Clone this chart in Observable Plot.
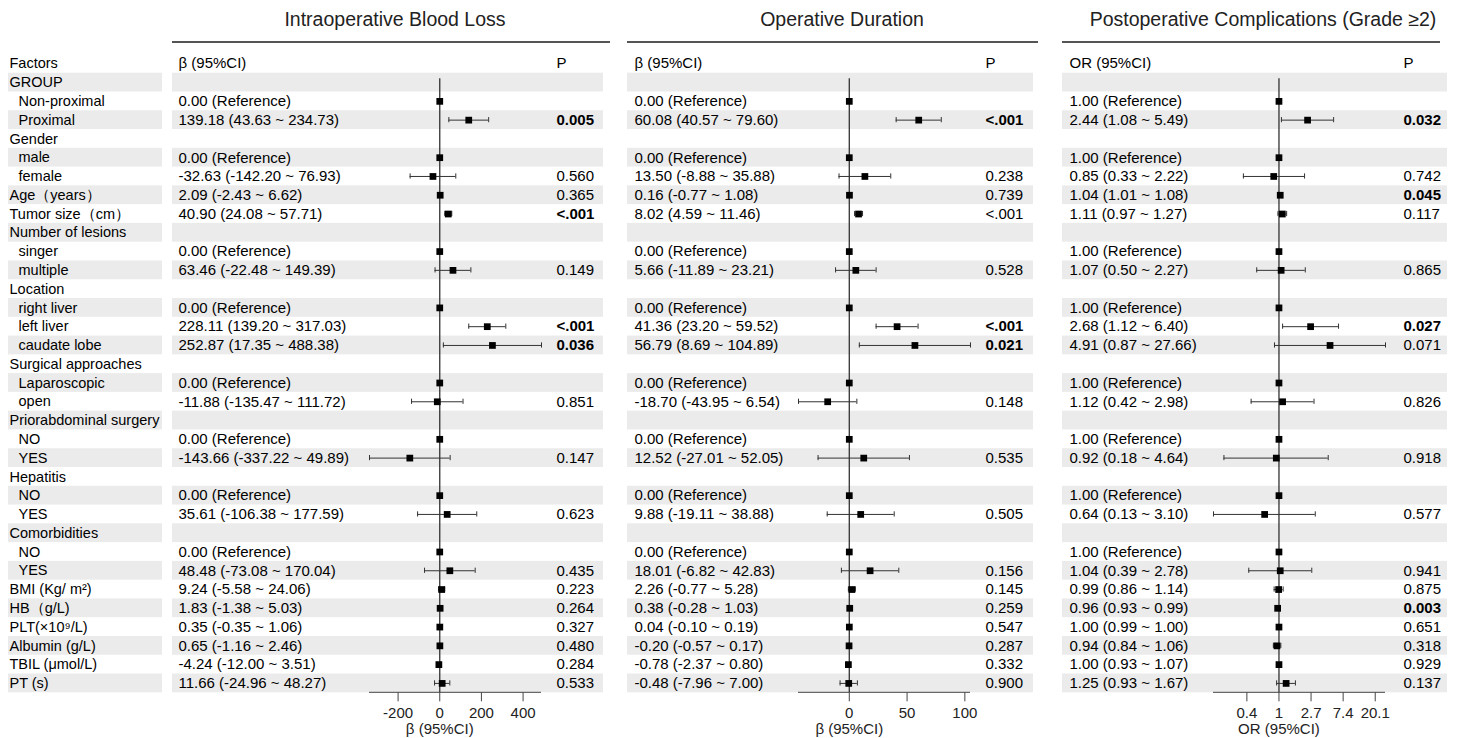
<!DOCTYPE html>
<html><head><meta charset="utf-8">
<script src="https://cdn.jsdelivr.net/npm/d3@7"></script>
<script src="https://cdn.jsdelivr.net/npm/@observablehq/plot@0.6"></script>
<style>
body{margin:0;background:#fff;}
#chart{position:relative;width:1457px;height:738px;font-family:"Liberation Sans",Arial,Helvetica,sans-serif;overflow:hidden;background:#fff}
.title{position:absolute;top:6px;width:500px;text-align:center;font-size:19.5px;color:#222;line-height:26px;white-space:nowrap}
.tline{position:absolute;top:41px;height:2px;background:#555}
#chart svg{position:absolute;top:0}
</style></head><body><div id="chart"></div>
<script>
const _ = null;
const factors = ["GROUP","Non-proximal","Proximal","Gender","male","female","Age（years）","Tumor size（cm）","Number of lesions","singer","multiple","Location","right liver","left liver","caudate lobe","Surgical approaches","Laparoscopic","open","Priorabdominal surgery","NO","YES","Hepatitis","NO","YES","Comorbidities","NO","YES","BMI (Kg/ m²)","HB（g/L)","PLT(×10⁹/L)","Albumin (g/L)","TBIL (μmol/L)","PT (s)"];
const levels = [0,1,1,0,1,1,0,0,0,1,1,0,1,1,1,0,1,1,0,1,1,0,1,1,0,1,1,0,0,0,0,0,0];

const titles = ["Intraoperative Blood Loss","Operative Duration","Postoperative Complications (Grade ≥2)"];
const headers = ["β (95%CI)","β (95%CI)","OR (95%CI)"];
const xlabels = ["β (95%CI)","β (95%CI)","OR (95%CI)"];

const est1 = [_,0,139.18,_,0,-32.63,2.09,40.90,_,0,63.46,_,0,228.11,252.87,_,0,-11.88,_,0,-143.66,_,0,35.61,_,0,48.48,9.24,1.83,0.35,0.65,-4.24,11.66];
const lo1 = [_,_,43.63,_,_,-142.20,-2.43,24.08,_,_,-22.48,_,_,139.20,17.35,_,_,-135.47,_,_,-337.22,_,_,-106.38,_,_,-73.08,-5.58,-1.38,-0.35,-1.16,-12.00,-24.96];
const hi1 = [_,_,234.73,_,_,76.93,6.62,57.71,_,_,149.39,_,_,317.03,488.38,_,_,111.72,_,_,49.89,_,_,177.59,_,_,170.04,24.06,5.03,1.06,2.46,3.51,48.27];
const p1 = [_,_,"0.005",_,_,"0.560","0.365","<.001",_,_,"0.149",_,_,"<.001","0.036",_,_,"0.851",_,_,"0.147",_,_,"0.623",_,_,"0.435","0.223","0.264","0.327","0.480","0.284","0.533"];
const sig1 = [0,0,1,0,0,0,0,1,0,0,0,0,0,1,1,0,0,0,0,0,0,0,0,0,0,0,0,0,0,0,0,0,0];

const est2 = [_,0,60.08,_,0,13.50,0.16,8.02,_,0,5.66,_,0,41.36,56.79,_,0,-18.70,_,0,12.52,_,0,9.88,_,0,18.01,2.26,0.38,0.04,-0.20,-0.78,-0.48];
const lo2 = [_,_,40.57,_,_,-8.88,-0.77,4.59,_,_,-11.89,_,_,23.20,8.69,_,_,-43.95,_,_,-27.01,_,_,-19.11,_,_,-6.82,-0.77,-0.28,-0.10,-0.57,-2.37,-7.96];
const hi2 = [_,_,79.60,_,_,35.88,1.08,11.46,_,_,23.21,_,_,59.52,104.89,_,_,6.54,_,_,52.05,_,_,38.88,_,_,42.83,5.28,1.03,0.19,0.17,0.80,7.00];
const p2 = [_,_,"<.001",_,_,"0.238","0.739","<.001",_,_,"0.528",_,_,"<.001","0.021",_,_,"0.148",_,_,"0.535",_,_,"0.505",_,_,"0.156","0.145","0.259","0.547","0.287","0.332","0.900"];
const sig2 = [0,0,1,0,0,0,0,0,0,0,0,0,0,1,1,0,0,0,0,0,0,0,0,0,0,0,0,0,0,0,0,0,0];

const est3 = [_,1,2.44,_,1,0.85,1.04,1.11,_,1,1.07,_,1,2.68,4.91,_,1,1.12,_,1,0.92,_,1,0.64,_,1,1.04,0.99,0.96,1.00,0.94,1.00,1.25];
const lo3 = [_,_,1.08,_,_,0.33,1.01,0.97,_,_,0.50,_,_,1.12,0.87,_,_,0.42,_,_,0.18,_,_,0.13,_,_,0.39,0.86,0.93,0.99,0.84,0.93,0.93];
const hi3 = [_,_,5.49,_,_,2.22,1.08,1.27,_,_,2.27,_,_,6.40,27.66,_,_,2.98,_,_,4.64,_,_,3.10,_,_,2.78,1.14,0.99,1.00,1.06,1.07,1.67];
const p3 = [_,_,"0.032",_,_,"0.742","0.045","0.117",_,_,"0.865",_,_,"0.027","0.071",_,_,"0.826",_,_,"0.918",_,_,"0.577",_,_,"0.941","0.875","0.003","0.651","0.318","0.929","0.137"];
const sig3 = [0,0,1,0,0,0,1,0,0,0,0,0,0,1,0,0,0,0,0,0,0,0,0,0,0,0,0,0,1,0,0,0,0];

const ticks1 = [-200,0,200,400];
const tickLabels1 = ["-200","0","200","400"];
const ticks2 = [0,50,100];
const tickLabels2 = ["0","50","100"];
const ticks3 = [0.3679,1,2.7183,7.3891,20.0855];
const tickLabels3 = ["0.4","1","2.7","7.4","20.1"];

// ---- layout ----
const FONT = '"Liberation Sans", Arial, Helvetica, sans-serif';
const H = 738, TOP = 72.7, BOTTOM = 692.3, HEAD = 63;
const rowIdx = d3.range(factors.length);
const chart = document.getElementById("chart");

const yScale = {type: "band", domain: rowIdx, padding: 0, round: false, axis: null};

// factor column
const facRows = factors.map((f, i) => ({i, f, lv: levels[i]}));
const fac = Plot.plot({
  width: 170, height: H, marginLeft: 8, marginRight: 8, marginTop: TOP, marginBottom: H - BOTTOM,
  style: {fontFamily: FONT, fontSize: "14.5px", background: "transparent", overflow: "visible"},
  y: yScale,
  marks: [
    Plot.cell(facRows.filter(d => d.i % 2 === 0), {y: "i", fill: "#ebebeb"}),
    Plot.text(facRows.filter(d => d.lv === 0), {y: "i", text: "f", frameAnchor: "left", dx: 1, textAnchor: "start", fill: "#000", fontSize: 14.5}),
    Plot.text(facRows.filter(d => d.lv === 1), {y: "i", text: "f", frameAnchor: "left", dx: 10, textAnchor: "start", fill: "#000", fontSize: 14.5}),
    Plot.text(["Factors"], {frameAnchor: "top-left", dx: 1, dy: HEAD - TOP, textAnchor: "start", lineAnchor: "middle", fill: "#000", fontSize: 14.5})
  ]
});
fac.style.left = "0px";
chart.appendChild(fac);

const panels = [
  {est: est1, lo: lo1, hi: hi1, p: p1, sig: sig1, ref: 0, type: "linear", ticks: ticks1, tl: tickLabels1,
   shadeLeft: 172, shadeRight: 603, svgRight: 612, textX: 178, plotL: 369, plotR: 541, pX: 556, lineL: 172, lineR: 610, tc: 395},
  {est: est2, lo: lo2, hi: hi2, p: p2, sig: sig2, ref: 0, type: "linear", ticks: ticks2, tl: tickLabels2,
   shadeLeft: 627, shadeRight: 1033, svgRight: 1040, textX: 634, plotL: 798, plotR: 970, pX: 985, lineL: 627, lineR: 1038, tc: 842},
  {est: est3, lo: lo3, hi: hi3, p: p3, sig: sig3, ref: 1, type: "log", ticks: ticks3, tl: tickLabels3,
   shadeLeft: 1062, shadeRight: 1447, svgRight: 1457, textX: 1069, plotL: 1213, plotR: 1385, pX: 1403, lineL: 1062, lineR: 1440, tc: 1263}
];

panels.forEach((c, k) => {
  const rows = rowIdx.map(i => ({i, est: c.est[i], lo: c.lo[i], hi: c.hi[i], p: c.p[i], sig: c.sig[i]}));
  const lab = d => d.lo == null ? `${d.est.toFixed(2)} (Reference)` : `${d.est.toFixed(2)} (${d.lo.toFixed(2)} ~ ${d.hi.toFixed(2)})`;
  const pts = rows.filter(d => d.est != null);
  const ci = rows.filter(d => d.lo != null);
  const dom = [d3.min(ci, d => d.lo), d3.max(ci, d => d.hi)];
  const tickData = c.ticks.map((v, j) => ({v, label: c.tl[j]}));
  const W = c.svgRight - c.shadeLeft;
  const mL = c.plotL - c.shadeLeft, mR = c.svgRight - c.plotR;
  const capInset = (BOTTOM - TOP) / factors.length / 2 - 2.6;
  const axisLine = (index, scales, values, dims) => {
    const x = scales.x;
    const yy = dims.height - dims.marginBottom;
    const l = d3.create("svg:line")
      .attr("x1", x(dom[0])).attr("x2", x(dom[1]))
      .attr("y1", yy).attr("y2", yy)
      .attr("stroke", "#444").attr("stroke-width", 1);
    return l.node();
  };
  const svg = Plot.plot({
    width: W, height: H, marginLeft: mL, marginRight: mR, marginTop: TOP, marginBottom: H - BOTTOM,
    style: {fontFamily: FONT, fontSize: "15px", color: "#444", background: "transparent", overflow: "visible"},
    x: {type: c.type, domain: dom, axis: null},
    y: yScale,
    marks: [
      Plot.cell(rows.filter(d => d.i % 2 === 0), {y: "i", fill: "#ebebeb", insetLeft: -(c.plotL - c.shadeLeft), insetRight: -(c.shadeRight - c.plotR)}),
      Plot.ruleX([c.ref], {stroke: "#333", strokeWidth: 1.3, insetTop: 5.6}),
      Plot.ruleY(ci, {y: "i", x1: "lo", x2: "hi", stroke: "#333", strokeWidth: 1}),
      Plot.tickX(ci, {x: "lo", y: "i", stroke: "#333", strokeWidth: 1, insetTop: capInset, insetBottom: capInset}),
      Plot.tickX(ci, {x: "hi", y: "i", stroke: "#333", strokeWidth: 1, insetTop: capInset, insetBottom: capInset}),
      Plot.dot(pts, {x: "est", y: "i", symbol: "square", r: 3.8, fill: "#000", stroke: "none"}),
      Plot.text(pts, {y: "i", text: lab, frameAnchor: "left", dx: c.textX - c.plotL, textAnchor: "start", fill: "#000", fontSize: 15}),
      Plot.text(rows.filter(d => d.p != null && !d.sig), {y: "i", text: "p", frameAnchor: "right", dx: c.pX - c.plotR, textAnchor: "start", fill: "#000", fontSize: 15}),
      Plot.text(rows.filter(d => d.p != null && d.sig), {y: "i", text: "p", frameAnchor: "right", dx: c.pX - c.plotR, textAnchor: "start", fill: "#000", fontSize: 15, fontWeight: "bold"}),
      Plot.text([headers[k]], {frameAnchor: "top-left", dx: c.textX - c.plotL, dy: HEAD - TOP, textAnchor: "start", lineAnchor: "middle", fill: "#000", fontSize: 15}),
      Plot.text(["P"], {frameAnchor: "top-right", dx: c.pX - c.plotR, dy: HEAD - TOP, textAnchor: "start", lineAnchor: "middle", fill: "#000", fontSize: 15}),
      // x axis: line, ticks, tick labels, title
      axisLine,
      Plot.ruleX(tickData, {x: "v", stroke: "#444", strokeWidth: 1, insetTop: BOTTOM - TOP, insetBottom: -9}),
      Plot.text(tickData, {x: "v", text: "label", frameAnchor: "bottom", dy: 20, lineAnchor: "middle", textAnchor: "middle", fill: "#222", fontSize: 15}),
      Plot.text([c.ref], {x: d => d, text: () => xlabels[k], frameAnchor: "bottom", dy: 36.5, lineAnchor: "middle", textAnchor: "middle", fill: "#222", fontSize: 15})
    ]
  });
  svg.style.left = c.shadeLeft + "px";
  chart.appendChild(svg);

  const t = document.createElement("div");
  t.className = "title";
  t.textContent = titles[k];
  t.style.left = (c.tc - 250) + "px";
  chart.appendChild(t);
  const ln = document.createElement("div");
  ln.className = "tline";
  ln.style.left = c.lineL + "px";
  ln.style.width = (c.lineR - c.lineL) + "px";
  chart.appendChild(ln);
});
</script>
</body></html>
